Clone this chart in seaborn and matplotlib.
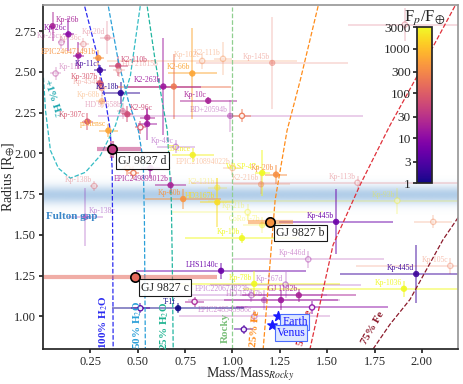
import numpy as np
import pandas as pd
import matplotlib
matplotlib.use("Agg")
import matplotlib.pyplot as plt
import seaborn as sns
from matplotlib.colors import LogNorm, to_rgb
from matplotlib.cm import ScalarMappable

# ---- planet sample (mass normalised to a rocky planet of same radius) ----
planet = ["Kp-26b", "Kp-26c", "Kp-25c", "Kp-36c", "Kp-20d", "", "EPIC246471491b", "K2-110b", "Kp-11c", "Kp-11b",
          "Kp-307b", "HD 21815b", "Kp-454b", "K2-18b", "Kp-68b", "HD 97658b", "K2-96c", "", "", "Kp-307c",
          "piMensc", "", "", "", "EPIC249893012b", "Kp-138b", "Kp-138c", "Kp-49c", "55Cnce", "EPIC210894022b",
          "WASP-47e", "Kp-20b", "K2-131b", "HD3167b", "K2-216b", "Kp-60b", "Kp-21b", "CoRoT-7b", "Kp-10b", "Kp-113b",
          "Kp-93b", "", "Kp-445b", "Kp-446d", "Kp-105c", "Kp-445d", "Kp-1036", "GJ 1132b", "", "LHS1140c",
          "Kp-78b", "Kp-167d", "EPIC220674823b", "HD 15337b", "", "T-1f", "", "EPIC248545986c", "", "",
          "K2-66b", "", "K2-263b", "Kp-10c", "BD+20594b", "", "Kp-102c", "K2-111b", "Kp-145b", "", ""]
mass_ratio = [0.050, 0.134, 0.097, 0.213, 0.340, 0.187, 0.292, 0.397, 0.300, 0.066,
              0.300, 0.400, 0.310, 0.410, 0.310, 0.420, 0.445, 0.550, 0.514, 0.234,
              0.345, 0.445, 0.477, 0.567, 0.673, 0.270, 0.224, 0.700, 0.790, 1.000,
              1.157, 1.230, 0.920, 0.920, 1.151, 0.740, 1.080, 1.157, 1.050, 1.660,
              1.870, 2.060, 1.547, 1.400, 2.150, 1.970, 1.905, 1.350, 1.420, 0.940,
              1.115, 1.280, 1.100, 1.167, 1.256, 0.713, 0.800, 1.115, 1.060, 0.514,
              0.788, 0.690, 0.635, 0.872, 0.988, 1.050, 0.840, 0.950, 1.210, 1.910, 0.550]
radius = [2.78, 2.73, 2.68, 2.67, 2.71, 2.60, 2.585, 2.537, 2.51, 2.49,
          2.43, 2.51, 2.40, 2.37, 2.32, 2.26, 2.24, 2.22, 2.16, 2.195,
          2.14, 1.91, 1.88, 1.91, 1.805, 1.80, 1.61, 2.04, 1.99, 1.91,
          1.88, 1.87, 1.79, 1.70, 1.81, 1.72, 1.64, 1.56, 1.48, 1.82,
          1.71, 1.58, 1.58, 1.35, 1.31, 1.26, 1.17, 1.13, 1.055, 1.28,
          1.20, 1.195, 1.13, 1.10, 1.10, 1.05, 1.09, 1.00, 0.92, 1.05,
          2.49, 2.41, 2.41, 2.323, 2.23, 2.23, 2.567, 2.58, 2.555, 2.79, 2.18]
mass_err = [0.01, 0.03, 0.02, 0.03, 0.04, 0.03, 0.03, 0.05, 0.03, 0.03,
            0.02, 0.03, 0.03, 0.10, 0.03, 0.03, 0.03, 0.04, 0.03, 0.03,
            0.05, 0.03, 0.03, 0.05, 0.08, 0.02, 0.09, 0.10, 0.11, 0.05,
            0.04, 0.06, 0.05, 0.09, 0.15, 0.20, 0.40, 0.10, 0.30, 0.88,
            1.00, 0.10, 0.30, 0.40, 0.50, 0.40, 0.85, 0.30, 0.40, 0.45,
            0.45, 0.40, 0.40, 0.40, 0.30, 0.35, 0.05, 0.40, 0.05, 0.05,
            0.13, 0.30, 0.20, 0.15, 0.70, 0.05, 0.50, 0.05, 0.40, 0.30, 0.05]
radius_err = [0.09, 0.10, 0.04, 0.04, 0.10, 0.08, 0.05, 0.06, 0.03, 0.04,
              0.04, 0.04, 0.05, 0.07, 0.04, 0.05, 0.05, 0.05, 0.04, 0.05,
              0.04, 0.04, 0.04, 0.06, 0.05, 0.03, 0.18, 0.04, 0.04, 0.04,
              0.14, 0.06, 0.06, 0.15, 0.06, 0.06, 0.05, 0.05, 0.03, 0.04,
              0.08, 0.04, 0.20, 0.05, 0.05, 0.18, 0.05, 0.04, 0.04, 0.05,
              0.08, 0.08, 0.04, 0.06, 0.06, 0.03, 0.03, 0.04, 0.03, 0.03,
              0.28, 0.20, 0.30, 0.02, 0.10, 0.04, 0.05, 0.10, 0.28, 0.10, 0.10]
flux = [20, 10, 25, 100, 80, 15, 400, 60, 2, 25,
        80, 120, 150, 1.5, 400, 50, 60, 20, 80, 80,
        600, 250, 200, 15, 20, 100, 8, 10, 2500, 300,
        3000, 350, 2000, 1800, 250, 400, 2500, 2500, 3000, 100,
        2500, 250, 5, 15, 200, 2, 3000, 20, 10, 5,
        3000, 10, 10, 15, 15, 1, 20, 15, 3, 3,
        600, 200, 15, 20, 15, 200, 300, 300, 150, 80, 15]
open_marker = [0, 0, 1, 1, 0, 0, 0, 0, 0, 1,
               0, 1, 0, 0, 0, 0, 0, 0, 1, 0,
               0, 1, 1, 0, 0, 1, 0, 1, 0, 1,
               0, 0, 0, 0, 0, 0, 1, 0, 0, 1,
               1, 1, 0, 1, 1, 0, 0, 0, 1, 0,
               0, 1, 1, 0, 0, 0, 1, 1, 1, 1,
               0, 0, 0, 0, 0, 1, 1, 1, 0, 1, 0]
low_precision = [0, 0, 1, 1, 1, 0, 0, 0, 0, 1,
                 0, 1, 1, 0, 1, 1, 0, 0, 0, 0,
                 0, 0, 0, 0, 0, 1, 1, 1, 0, 1,
                 0, 0, 1, 0, 1, 0, 1, 1, 0, 1,
                 1, 1, 0, 1, 1, 0, 0, 0, 0, 0,
                 0, 1, 1, 1, 0, 0, 0, 1, 0, 0,
                 0, 0, 0, 0, 1, 0, 1, 1, 1, 1, 0]

# ---- GJ 9827 system ----
gj_names = ["GJ 9827 b", "GJ 9827 c", "GJ 9827 d"]
gj_mass = [1.20, 0.487, 0.366]
gj_radius = [1.58, 1.244, 2.024]
gj_mass_lo = [0.12, 0.48, 0.08]
gj_mass_hi = [0.12, 0.43, 0.15]
gj_radius_err = [0.03, 0.02, 0.05]
gj_flux = [400, 140, 40]

# ---- solar system ----
ss_names = ["Earth", "Venus"]
ss_mass = [1.24, 1.21]
ss_radius = [1.00, 0.95]

# ---- composition curves (mass ratio, radius) ----
h2o100_m = [0.22, 0.28, 0.33, 0.355, 0.365, 0.368, 0.37]
h2o100_r = [2.90, 2.63, 2.32, 2.14, 1.90, 1.40, 0.80]
h2o50_m = [0.345, 0.397, 0.45, 0.503, 0.529, 0.535, 0.54]
h2o50_r = [2.90, 2.567, 2.323, 2.14, 1.957, 1.592, 0.80]
h2o25_m = [0.55, 0.592, 0.656, 0.677, 0.682, 0.687]
h2o25_r = [2.90, 2.567, 2.14, 1.713, 1.348, 0.80]
h2_m = [0.002, 0.013, 0.039, 0.081, 0.144, 0.2235, 0.303, 0.382, 0.461, 0.513]
h2_r = [2.464, 2.262, 2.018, 1.909, 1.848, 1.884, 1.988, 2.171, 2.476, 2.903]
rocky_m = [1.0, 1.0]
rocky_r = [0.80, 2.90]
fe25_m = [1.452, 1.357, 1.288, 1.225, 1.162]
fe25_r = [2.903, 2.445, 2.14, 1.713, 0.80]
fe50_m = [2.174, 1.99, 1.831, 1.673, 1.531, 1.409]
fe50_r = [2.903, 2.506, 2.171, 1.805, 1.439, 0.80]
fe75_m = [1.742, 1.831, 1.937, 2.111, 2.20]
fe75_r = [0.80, 0.951, 1.104, 1.47, 1.622]

fulton_gap_center = 1.745

df = pd.DataFrame({"planet": planet, "mass": mass_ratio, "radius": radius,
                   "mass_err": mass_err, "radius_err": radius_err, "flux": flux,
                   "open": open_marker, "faint": low_precision})

sns.set_theme(style="ticks")
plt.rcParams['font.family'] = ['Liberation Serif', 'DejaVu Serif']
plt.rcParams['mathtext.fontset'] = 'stix'

cmap = plt.get_cmap("plasma")
norm = LogNorm(vmin=1, vmax=3000)

fig = plt.figure(figsize=(4.63, 3.84), dpi=100)
ax = fig.add_axes([0.093, 0.091, 0.896, 0.896])
xlim = (0.0, 2.19)
ylim = (0.8, 2.91)

# Fulton gap haze
yy = np.linspace(1.5, 2.0, 300)
img = np.zeros((len(yy), 1, 4))
img[..., :3] = to_rgb("#7faedb")
img[..., 3] = (0.6 * np.exp(-((yy - fulton_gap_center) / 0.055) ** 2))[:, None]
ax.imshow(img, extent=[xlim[0], xlim[1], yy[0], yy[-1]], origin="lower",
          aspect="auto", zorder=0, interpolation="bilinear")

# error bars
for _, row in df.iterrows():
    c = cmap(norm(row["flux"]))
    ax.errorbar(row["mass"], row["radius"], xerr=row["mass_err"], yerr=row["radius_err"],
                fmt="none", ecolor=c, elinewidth=1.2, alpha=0.25 if row["faint"] else 0.55, zorder=1)

# composition curves
curves = [(h2o100_m, h2o100_r, "#2b2bf0"), (h2o50_m, h2o50_r, "#2a9fd8"),
          (h2o25_m, h2o25_r, "#22b5a0"), (h2_m, h2_r, "#33bcc4"),
          (rocky_m, rocky_r, "#8fcf8f"), (fe25_m, fe25_r, "#ff8c1a"),
          (fe50_m, fe50_r, "#e0303a"), (fe75_m, fe75_r, "#8b1a2b")]
for cm_, cr_, col in curves:
    sns.lineplot(x=cm_, y=cr_, sort=False, estimator=None, color=col, lw=0.9,
                 linestyle="--", ax=ax, zorder=2)

# markers: four groups (filled / open, precise / faint)
for is_open in (0, 1):
    for is_faint in (0, 1):
        sub = df[(df["open"] == is_open) & (df["faint"] == is_faint)]
        if sub.empty:
            continue
        cols = [cmap(norm(f)) for f in sub["flux"]]
        a = 0.4 if is_faint else 0.9
        if is_open:
            ax.scatter(sub["mass"], sub["radius"], s=14, facecolors="white",
                       edgecolors=cols, linewidths=1.0, alpha=a, zorder=3)
        else:
            ax.scatter(sub["mass"], sub["radius"], s=16, c=cols, edgecolors=cols,
                       linewidths=0.5, alpha=a, zorder=3)

label_left = {"Kp-26b", "K2-110b", "Kp-11b", "HD 21815b", "K2-96c", "Kp-138c"}
for _, row in df.iterrows():
    if not row["planet"]:
        continue
    c = cmap(norm(row["flux"]))
    left = row["planet"] in label_left
    ax.annotate(row["planet"], (row["mass"], row["radius"]),
                xytext=(2 if left else -1.5, 1.5), textcoords="offset points",
                ha="left" if left else "right", va="bottom", fontsize=5.5,
                color=c, alpha=0.45 if row["faint"] else 0.95, zorder=4)

# GJ 9827 planets
for i, name in enumerate(gj_names):
    c = cmap(norm(gj_flux[i]))
    ax.errorbar(gj_mass[i], gj_radius[i], xerr=[[gj_mass_lo[i]], [gj_mass_hi[i]]],
                yerr=gj_radius_err[i], fmt="none", ecolor=c, elinewidth=3, alpha=0.55, zorder=5)
    ax.scatter(gj_mass[i], gj_radius[i], s=45, color=c, edgecolors="black",
               linewidths=1.2, zorder=6)
    ax.annotate(name, (gj_mass[i], gj_radius[i]), xytext=(4, -8), textcoords="offset points",
                ha="left", va="center", fontsize=8.5, zorder=7,
                bbox=dict(boxstyle="square,pad=0.2", fc="white", ec="black", lw=0.8, alpha=0.9))

# Earth & Venus
ax.scatter(ss_mass, ss_radius, marker="*", s=50, color="#1a1aff", zorder=6)
for name, m, r, dx, dy in zip(ss_names, ss_mass, ss_radius, [3, 3], [-4, -6]):
    ax.annotate(name, (m, r), xytext=(dx, dy), textcoords="offset points", ha="left",
                va="center", fontsize=8.5, color="#1a1aff", zorder=7,
                bbox=dict(boxstyle="square,pad=0.15", fc="#dde6ff", ec="#4a6cff", lw=0.8))

# curve labels
ax.text(0.32, 0.965, r"100% H$_2$O", rotation=90, color="#2b2bf0", fontsize=8,
        fontweight="bold", ha="center", va="center")
ax.text(0.50, 0.95, r"50% H$_2$O", rotation=90, color="#2a9fd8", fontsize=8,
        fontweight="bold", ha="center", va="center")
ax.text(0.645, 0.945, r"25% H$_2$O", rotation=90, color="#1fb391", fontsize=8,
        fontweight="bold", ha="center", va="center")
ax.text(0.962, 0.93, "Rocky", rotation=90, color="#7cc07c", fontsize=8,
        fontweight="bold", ha="center", va="center")
ax.text(1.12, 0.925, "25% Fe", rotation=85, color="#ff8c1a", fontsize=8,
        fontweight="bold", ha="center", va="center")
ax.text(1.384, 0.93, "50% Fe", rotation=76, color="#d0202a", fontsize=8,
        fontweight="bold", ha="center", va="center")
ax.text(1.742, 0.93, "75% Fe", rotation=60, color="#8b1a2b", fontsize=8,
        fontweight="bold", ha="center", va="center")
ax.text(0.05, 2.34, r"+1% H$_2$", rotation=-72, color="#1fa8b0", fontsize=8,
        fontweight="bold", ha="center", va="center")
ax.text(0.013, 1.61, "Fulton gap", color="#3a87c8", fontsize=8,
        fontweight="bold", ha="left", va="center")

ax.set_xlim(*xlim)
ax.set_ylim(*ylim)
ax.set_xticks([0.25, 0.5, 0.75, 1.0, 1.25, 1.5, 1.75, 2.0])
ax.set_xticklabels(["0.25", "0.50", "0.75", "1.00", "1.25", "1.50", "1.75", "2.00"])
ax.set_yticks([1.0, 1.25, 1.5, 1.75, 2.0, 2.25, 2.5, 2.75])
ax.set_yticklabels(["1.00", "1.25", "1.50", "1.75", "2.00", "2.25", "2.50", "2.75"])
ax.tick_params(labelsize=9, length=3, pad=2)
ax.set_xlabel(r"Mass/Mass$_{Rocky}$", fontsize=10)
ax.set_ylabel(r"Radius [R$_{\oplus}$]", fontsize=10)
ax.xaxis.set_label_coords(0.5, -0.046)
ax.yaxis.set_label_coords(-0.062, 0.5)
for sp in ["top", "right"]:
    ax.spines[sp].set_color("#999999")

# colour bar
cax = fig.add_axes([0.9006, 0.5234, 0.0324, 0.406])
cb = fig.colorbar(ScalarMappable(norm=norm, cmap=cmap), cax=cax)
cb_ticks = [1, 3, 10, 30, 100, 300, 1000, 3000]
cb.set_ticks(cb_ticks)
cb.set_ticklabels([str(t) for t in cb_ticks])
cb.minorticks_off()
cax.yaxis.set_ticks_position("left")
cax.tick_params(labelsize=9.5, length=3, pad=1.5)
cax.set_title(r"F$_p$/F$_{\oplus}$", fontsize=12, pad=1)

fig.savefig("out.png", dpi=100)
